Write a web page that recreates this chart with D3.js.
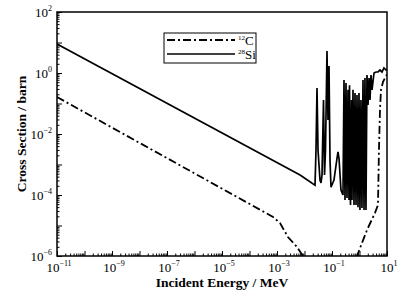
<!DOCTYPE html>
<html>
<head>
<meta charset="utf-8">
<script src="https://cdn.jsdelivr.net/npm/d3@7"></script>
<style>
  body { margin: 0; background: #fff; }
  text { font-family: "Liberation Serif", "Times New Roman", serif; fill: #000; }
</style>
</head>
<body>
<div id="main"></div>
<script>
// data: energy (MeV) and cross section (barn)
const siEnergy = [1e-11, 6.9e-3, 0.0241, 0.0262, 0.0285, 0.031, 0.0366, 0.0398,
  0.0433, 0.0491, 0.0534, 0.058, 0.0658, 0.0716, 0.0778, 0.0846, 0.092,
  0.118, 0.152, 0.165, 0.18, 0.212,
  0.251, 0.273, 0.297, 0.323, 0.351, 0.382, 0.415, 0.433, 0.471, 0.512, 0.534, 0.58,
  0.631, 0.686, 0.746, 0.811, 0.882, 0.959, 1.04, 1.13, 1.23, 1.34, 1.46, 1.58, 1.72,
  1.87, 2.04, 2.22, 2.41, 2.62, 2.85, 3.37, 3.98, 4.71, 5.56, 6.58, 7.78, 9.2, 10];
const siSigma = [8.9, 4.5e-4, 2.1e-4, 3.0e-3, 0.32, 3.0e-3, 3.1e-4, 2.5e-4,
  4.5e-4, 0.13, 4.5e-4, 3.0e-3, 5.3, 0.029, 1.7, 1.4e-3, 1.8e-4,
  3.1e-4, 1.6e-3, 2.6e-3, 1.6e-3, 1.46e-4,
  1.0e-4, 0.59, 6.9e-5, 0.47, 8e-5, 0.28, 6.9e-5, 0.40, 4.7e-5, 0.13, 6.9e-5, 0.28,
  4.7e-5, 0.22, 4.7e-5, 0.19, 4.0e-5, 0.22, 3.2e-5, 0.13, 3.75e-5, 0.59, 3.2e-5, 0.69, 3.2e-5,
  0.86, 0.089, 0.69, 0.13, 0.86, 0.28, 1.0, 1.08, 1.08, 1.25, 1.08, 1.46, 1.25, 1.3];

const cEnergy = [1e-11, 7.2e-4, 1.29e-3, 2.5e-3, 5.3e-3, 8.8e-3, 0.016, 0.45,
  0.81, 1.87, 3.66, 4.7, 5.1, 5.56, 6.05, 7.16, 9.2, 10];
const cSigma = [0.163, 1.9e-5, 1.2e-5, 4.2e-6, 2.0e-6, 1.0e-6, 3.5e-7, 3e-7,
  1.0e-6, 7.1e-6, 2.6e-5, 4.7e-5, 3.0e-3, 0.062, 0.28, 0.51, 0.8, 0.9];

const xTickExp = [-11, -9, -7, -5, -3, -1, 1];
const yTickExp = [2, 0, -2, -4, -6];

const W = 403, H = 298;
const margin = { left: 57, right: 16, top: 12, bottom: 42 };
const width = W - margin.left - margin.right;
const height = H - margin.top - margin.bottom;

const svg = d3.select('#main').append('svg')
  .attr('width', W)
  .attr('height', H);

const chart = svg.append('g')
  .attr('transform', `translate(${margin.left},${margin.top})`);

const x = d3.scaleLog().domain([1e-11, 1e1]).range([0, width]);
const y = d3.scaleLog().domain([1e-6, 1e2]).range([height, 0]);

chart.append('clipPath').attr('id', 'clip')
  .append('rect').attr('width', width).attr('height', height);

// inward ticks, major per decade, minors 2..9
function decadeTicks(lo, hi) {
  const major = [], minor = [];
  for (let e = lo; e < hi; e++) {
    major.push(Math.pow(10, e));
    for (let m = 2; m <= 9; m++) minor.push(m * Math.pow(10, e));
  }
  major.push(Math.pow(10, hi));
  return { major, minor };
}

const xt = decadeTicks(-11, 1);
chart.append('g')
  .attr('transform', `translate(0,${height})`)
  .call(d3.axisBottom(x).tickValues(xt.major).tickSize(-5).tickFormat(''))
  .call(g => g.select('.domain').remove());
chart.append('g')
  .attr('transform', `translate(0,${height})`)
  .call(d3.axisBottom(x).tickValues(xt.minor).tickSize(-2.5).tickFormat(''))
  .call(g => g.select('.domain').remove());

const yt = decadeTicks(-6, 2);
chart.append('g')
  .call(d3.axisLeft(y).tickValues(yt.major).tickSize(-5).tickFormat(''))
  .call(g => g.select('.domain').remove());
chart.append('g')
  .call(d3.axisLeft(y).tickValues(yt.minor).tickSize(-2.5).tickFormat(''))
  .call(g => g.select('.domain').remove());

chart.selectAll('.tick line').attr('stroke', '#000').attr('stroke-width', 1);

// frame
chart.append('rect')
  .attr('width', width).attr('height', height)
  .attr('fill', 'none').attr('stroke', '#000').attr('stroke-width', 1.5);

// tick labels
function powLabel(sel, e) {
  sel.append('tspan').text('10');
  sel.append('tspan').attr('font-size', 8).attr('dy', -6)
    .text(e < 0 ? '\u2212' + (-e) : String(e));
}

chart.selectAll('.xlab').data(xTickExp).enter().append('text')
  .attr('x', e => x(Math.pow(10, e)) + 2)
  .attr('y', height + 16)
  .attr('text-anchor', 'middle')
  .attr('font-size', 13).attr('fill', '#000')
  .each(function (e) { powLabel(d3.select(this), e); });

chart.selectAll('.ylab').data(yTickExp).enter().append('text')
  .attr('x', -5)
  .attr('y', e => y(Math.pow(10, e)) + 5)
  .attr('text-anchor', 'end')
  .attr('font-size', 13).attr('fill', '#000')
  .each(function (e) { powLabel(d3.select(this), e); });

// curves
const line = d3.line().x(d => x(d[0])).y(d => y(d[1]));
const plot = chart.append('g').attr('clip-path', 'url(#clip)');

plot.append('path')
  .datum(cEnergy.map((e, i) => [e, cSigma[i]]))
  .attr('d', line)
  .attr('fill', 'none').attr('stroke', '#000').attr('stroke-width', 1.8)
  .attr('stroke-dasharray', '8,3,2,3');

plot.append('path')
  .datum(siEnergy.map((e, i) => [e, siSigma[i]]))
  .attr('d', line)
  .attr('fill', 'none').attr('stroke', '#000').attr('stroke-width', 1.7);

// legend
const leg = svg.append('g').attr('transform', 'translate(164,33)');
leg.append('rect').attr('width', 92).attr('height', 30)
  .attr('fill', '#fff').attr('stroke', '#000').attr('stroke-width', 1);
leg.append('line').attr('x1', 3).attr('x2', 71).attr('y1', 7).attr('y2', 7)
  .attr('stroke', '#000').attr('stroke-width', 1.8).attr('stroke-dasharray', '8,3,2,3');
leg.append('line').attr('x1', 3).attr('x2', 71).attr('y1', 21).attr('y2', 21)
  .attr('stroke', '#000').attr('stroke-width', 1.7);
const lc = leg.append('text').attr('x', 74).attr('y', 12).attr('font-size', 13).attr('fill', '#000');
lc.append('tspan').attr('font-size', 7).attr('dy', -5).text('12');
lc.append('tspan').attr('dy', 5).text('C');
const ls = leg.append('text').attr('x', 74).attr('y', 26).attr('font-size', 13).attr('fill', '#000');
ls.append('tspan').attr('font-size', 7).attr('dy', -5).text('28');
ls.append('tspan').attr('dy', 5).text('Si');

// axis titles
svg.append('text')
  .attr('x', margin.left + width / 2)
  .attr('y', 287)
  .attr('text-anchor', 'middle')
  .attr('font-size', 13.5).attr('font-weight', 'bold').attr('fill', '#000')
  .text('Incident Energy / MeV');

svg.append('text')
  .attr('transform', `translate(26,${margin.top + height / 2}) rotate(-90)`)
  .attr('text-anchor', 'middle')
  .attr('font-size', 13.5).attr('font-weight', 'bold').attr('fill', '#000')
  .text('Cross Section / barn');
</script>
</body>
</html>
